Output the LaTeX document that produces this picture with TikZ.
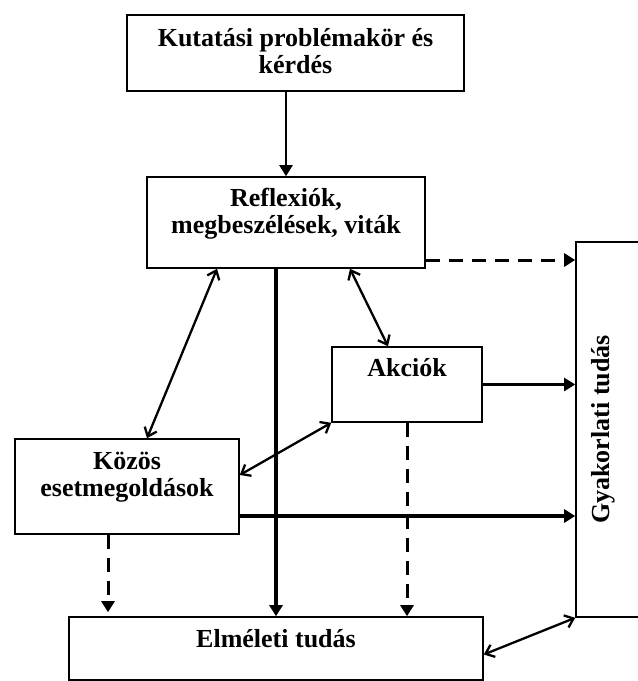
\documentclass[tikz,border=0pt]{standalone}
\usepackage{fontspec}
\setmainfont{Liberation Serif}
\usetikzlibrary{arrows.meta}
\begin{document}
\begin{tikzpicture}[x=1pt,y=-1pt,
	box/.style={draw,line width=1.6pt,inner sep=0pt},
	lbl/.style={font=\fontsize{26}{27}\selectfont\bfseries,align=center,inner sep=0pt},
	arr/.style={line width=2.3pt,-{Triangle[length=11pt,width=13pt]}},
	heavy/.style={arr,line width=3.6pt},
	dsh/.style={arr,line width=3pt,dash pattern=on 14pt off 9pt},
	both/.style={line width=2.3pt,{Straight Barb[length=8pt,width=13pt]}-{Straight Barb[length=8pt,width=13pt]}}]
	\clip (0,0) rectangle (638,681);
	\node[box,minimum width=337pt,minimum height=76pt] (kut) at (295.5,53) {};
	\node[box,minimum width=278pt,minimum height=91pt] (refl) at (286,222.5) {};
	\node[box,minimum width=150pt,minimum height=75pt] (akc) at (407,384.5) {};
	\node[box,minimum width=224pt,minimum height=95pt] (kozos) at (127,486.5) {};
	\node[box,minimum width=414pt,minimum height=63pt] (elm) at (276,648.5) {};
	\node[box,minimum width=94pt,minimum height=375pt] (gyak) at (623,429.5) {};
	\node[lbl] (kutt) at ([yshift=2pt]kut.center) {Kutatási problémakör és\\kérdés};
	\node[lbl] (reflt) at ([yshift=9pt]refl.center) {Reflexiók,\\megbeszélések, viták};
	\node[lbl] (akct) at ([yshift=17pt]akc.center) {Akciók};
	\node[lbl] (kozost) at ([yshift=9pt]kozos.center) {Közös\\esetmegoldások};
	\node[lbl] (elmt) at ([yshift=10pt]elm.center) {Elméleti tudás};
	\node[lbl,rotate=90] (gyakt) at (603,429.5) {Gyakorlati tudás};
	\draw[arr] (kut.south -| refl.north) -- (refl.north);
	\draw[dsh] ([yshift=-37.5pt]refl.east) -- ([yshift=-37.5pt]refl.east -| gyak.west);
	\draw[arr] (akc.east) -- (akc.east -| gyak.west);
	\draw[heavy] ([yshift=-29.5pt]kozos.east) -- ([yshift=-29.5pt]kozos.east -| gyak.west);
	\draw[heavy] (refl.south -| elm.north) -- (elm.north);
	\draw[dsh] ([xshift=-19pt]kozos.south) -- ([xshift=-19pt,yshift=4pt]kozos.south |- elm.north);
	\draw[dsh] (akc.south) -- (akc.south |- elm.north);
	\draw[both] ([xshift=64pt]refl.south) -- ([xshift=-19pt]akc.north);
	\draw[both] ([xshift=-69pt]refl.south) -- ([xshift=20pt]kozos.north);
	\draw[both] ([yshift=11.5pt]kozos.east) -- (akc.south west);
	\draw[both] ([yshift=-6pt]elm.east) -- (gyak.south west);
\end{tikzpicture}
\end{document}
